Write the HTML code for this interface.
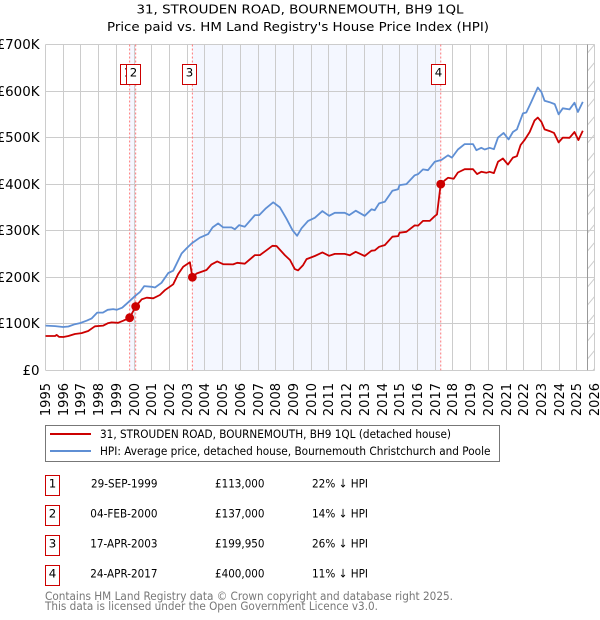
<!DOCTYPE html>
<html>
<head>
<meta charset="utf-8">
<title>31, Strouden Road price chart</title>
<style>
html,body{margin:0;padding:0;background:#fff;width:600px;height:620px;overflow:hidden}
svg{display:block}
text{font-family:"DejaVu Sans","Liberation Sans",sans-serif;fill:#000}
</style>
</head>
<body>
<svg id="chart" xmlns="http://www.w3.org/2000/svg" width="600" height="620" viewBox="0 0 600 620">
  <defs>
    <pattern id="hatch" patternUnits="userSpaceOnUse" width="10" height="18" x="585" y="44">
      <line x1="0" y1="12" x2="10" y2="0" stroke="#ccc" stroke-width="1"/>
      <line x1="0" y1="30" x2="10" y2="18" stroke="#ccc" stroke-width="1"/>
    </pattern>
  </defs>
  <text x="300" y="13.5" text-anchor="middle" font-size="12.2" textLength="327" lengthAdjust="spacingAndGlyphs">31, STROUDEN ROAD, BOURNEMOUTH, BH9 1QL</text>
  <text x="298" y="31" text-anchor="middle" font-size="12.2" textLength="382" lengthAdjust="spacingAndGlyphs">Price paid vs. HM Land Registry's House Price Index (HPI)</text>
  <g id="plot"></g>

  <g>
    <rect x="45.5" y="425.5" width="454" height="36" fill="#fff" stroke="#777" stroke-width="1"/>
    <line x1="50" y1="434" x2="91" y2="434" stroke="#cc0000" stroke-width="2"/>
    <text x="100" y="438" font-size="11.8" textLength="351" lengthAdjust="spacingAndGlyphs">31, STROUDEN ROAD, BOURNEMOUTH, BH9 1QL (detached house)</text>
    <line x1="50" y1="451" x2="91" y2="451" stroke="#5f8fd4" stroke-width="2"/>
    <text x="100" y="455" font-size="11.8" textLength="390.5" lengthAdjust="spacingAndGlyphs">HPI: Average price, detached house, Bournemouth Christchurch and Poole</text>
  </g>

  <g>
    <g>
      <rect x="45.5" y="475.5" width="14" height="20" fill="#fff" stroke="#cc0000" stroke-width="1"/>
      <text x="52.5" y="487.5" text-anchor="middle" font-size="11.8">1</text>
      <text x="91" y="487.5" font-size="11.8" textLength="66.5" lengthAdjust="spacingAndGlyphs">29-SEP-1999</text>
      <text x="215" y="487.5" font-size="11.8" textLength="49.5" lengthAdjust="spacingAndGlyphs">£113,000</text>
      <text x="312" y="487.5" font-size="11.8" textLength="56" lengthAdjust="spacingAndGlyphs">22% ↓ HPI</text>
    </g>
    <g>
      <rect x="45.5" y="505.5" width="14" height="20" fill="#fff" stroke="#cc0000" stroke-width="1"/>
      <text x="52.5" y="517.5" text-anchor="middle" font-size="11.8">2</text>
      <text x="90.3" y="517.5" font-size="11.8" textLength="67.2" lengthAdjust="spacingAndGlyphs">04-FEB-2000</text>
      <text x="215" y="517.5" font-size="11.8" textLength="49.5" lengthAdjust="spacingAndGlyphs">£137,000</text>
      <text x="312" y="517.5" font-size="11.8" textLength="56" lengthAdjust="spacingAndGlyphs">14% ↓ HPI</text>
    </g>
    <g>
      <rect x="45.5" y="535.5" width="14" height="20" fill="#fff" stroke="#cc0000" stroke-width="1"/>
      <text x="52.5" y="547.5" text-anchor="middle" font-size="11.8">3</text>
      <text x="90.3" y="547.5" font-size="11.8" textLength="67.2" lengthAdjust="spacingAndGlyphs">17-APR-2003</text>
      <text x="215" y="547.5" font-size="11.8" textLength="49.5" lengthAdjust="spacingAndGlyphs">£199,950</text>
      <text x="312" y="547.5" font-size="11.8" textLength="56" lengthAdjust="spacingAndGlyphs">26% ↓ HPI</text>
    </g>
    <g>
      <rect x="45.5" y="565.5" width="14" height="20" fill="#fff" stroke="#cc0000" stroke-width="1"/>
      <text x="52.5" y="577.5" text-anchor="middle" font-size="11.8">4</text>
      <text x="90.3" y="577.5" font-size="11.8" textLength="67.2" lengthAdjust="spacingAndGlyphs">24-APR-2017</text>
      <text x="215" y="577.5" font-size="11.8" textLength="49.5" lengthAdjust="spacingAndGlyphs">£400,000</text>
      <text x="312" y="577.5" font-size="11.8" textLength="56" lengthAdjust="spacingAndGlyphs">11% ↓ HPI</text>
    </g>
  </g>

  <text x="45" y="600" font-size="11.6" style="fill:#777" textLength="408" lengthAdjust="spacingAndGlyphs">Contains HM Land Registry data © Crown copyright and database right 2025.</text>
  <text x="45" y="610" font-size="11.6" style="fill:#777" textLength="333" lengthAdjust="spacingAndGlyphs">This data is licensed under the Open Government Licence v3.0.</text>
</svg>
<script>
const yearTicks = [1995,1996,1997,1998,1999,2000,2001,2002,2003,2004,2005,2006,2007,2008,2009,2010,2011,2012,2013,2014,2015,2016,2017,2018,2019,2020,2021,2022,2023,2024,2025,2026];
const valueTicks = [0,100000,200000,300000,400000,500000,600000,700000];
const valueTickLabels = ["£0","£100K","£200K","£300K","£400K","£500K","£600K","£700K"];
const hpiYears = [1995,1995.54,1995.99,1996.29,1996.66,1996.95,1997.32,1997.61,1997.92,1998.24,1998.51,1998.82,1999.02,1999.33,1999.67,2000.05,2000.33,2000.57,2000.99,2001.18,2001.55,2001.93,2002.21,2002.68,2002.96,2003.25,2003.71,2004.18,2004.43,2004.75,2005.03,2005.5,2005.69,2005.93,2006.25,2006.82,2007.06,2007.44,2007.85,2008.23,2008.6,2008.94,2009.2,2009.45,2009.82,2010.2,2010.63,2011.01,2011.33,2011.89,2012.14,2012.51,2013.02,2013.4,2013.58,2013.83,2014.15,2014.58,2014.9,2014.99,2015.37,2015.84,2016.03,2016.31,2016.59,2016.97,2017.35,2017.72,2017.94,2018.28,2018.66,2019.13,2019.32,2019.6,2019.79,2020.07,2020.31,2020.54,2020.86,2021.14,2021.38,2021.61,2021.95,2022.14,2022.42,2022.79,2022.99,2023.17,2023.46,2023.74,2023.96,2024.2,2024.58,2024.86,2025.05,2025.33];
const hpiValues = [96,95,93,94,99,101.5,106.5,111.5,124,124,130,131.5,130,134.5,146,159.5,168,181,179.5,178,188,209,214,251,262,272.7,285,292.7,307,315.6,307,307,303,312,308.5,333.5,333.5,348,361,350,326,301,289,305,321,327.7,342,332,338.5,338.5,333.5,343,332,346,344,358.6,362,385.7,389,398,400,419,421.5,431.6,430,448,452,462,457,474.5,486,486,473,478,474.5,478,475,500,510,496,512,517.5,552,554,576.7,607.6,598,579,576,572,550,563,560.6,575,555,576.7];
const priceYears = [1995,1995.54,1995.63,1995.76,1996.01,1996.29,1996.66,1997.04,1997.41,1997.79,1998.26,1998.54,1998.73,1999.1,1999.39,1999.75,2000.09,2000.43,2000.71,2001.08,2001.46,2001.74,2002.21,2002.49,2002.77,2003.15,2003.29,2003.53,2004.09,2004.37,2004.69,2005.03,2005.59,2005.82,2006.25,2006.82,2007.1,2007.48,2007.81,2008.04,2008.51,2008.8,2009.07,2009.26,2009.54,2009.74,2010.2,2010.63,2011.01,2011.33,2011.89,2012.17,2012.51,2013.02,2013.4,2013.58,2013.83,2014.15,2014.58,2014.9,2014.99,2015.37,2015.84,2016.03,2016.31,2016.69,2016.97,2017.1,2017.31,2017.55,2017.72,2018.04,2018.28,2018.66,2019.13,2019.36,2019.6,2019.88,2020.07,2020.31,2020.54,2020.82,2021.1,2021.38,2021.61,2021.82,2022.04,2022.33,2022.61,2022.79,2022.99,2023.17,2023.46,2023.7,2023.96,2024.2,2024.58,2024.86,2025.08,2025.33];
const priceValues = [73.6,73.6,76,72,71.5,73.6,78,80,84.5,94.5,96,101.5,103,102,106.5,113,137,152.5,156,154.6,161.7,172,184.7,207,222.5,232,199.95,208,215.4,227.6,234,228,227.6,231,229,247.6,247.6,258,267.6,267,247.6,237,217.5,214.7,226,239,245.5,253.4,246,250,250,247,254.7,245.5,257,257.7,265.4,269,287,288.4,295.6,297.6,311.4,311,321,321,331,335,400,408.6,413.6,411.4,425,432,432,421.5,426.5,424.3,426.5,423.6,448,455,442,457,460,484,494.5,512,537,543,534,517.5,514,510,489.6,500,499.5,512,494.5,514.5];
const saleYears = [1999.75,2000.09,2003.29,2017.31];
const salePrices = [113000,137000,199950,400000];
const saleLabels = ["1","2","3","4"];
const dataEndYear = 2025.58;

const NS = "http://www.w3.org/2000/svg";
const plot = document.getElementById("plot");
function xScale(year){ return 45.5 + (year - 1995) * (549.2 / 31); }
function yScale(value){ return 370.3 - value * (325.8 / 700000); }
function snap(p){ return Math.floor(p) + 0.5; }
function add(tag, attrs, parent){
  const el = document.createElementNS(NS, tag);
  for (const k in attrs) el.setAttribute(k, attrs[k]);
  (parent || plot).appendChild(el);
  return el;
}
function linePath(xs, ys, unit){
  return xs.map((x, i) => (i ? "L" : "M") + xScale(x).toFixed(1) + " " + yScale(ys[i] * unit).toFixed(1)).join(" ");
}

/* ownership shading between sale pairs */
for (let i = 0; i + 1 < saleYears.length; i += 2) {
  const band = add("rect", {x: xScale(saleYears[i]), y: yScale(700000), width: xScale(saleYears[i + 1]) - xScale(saleYears[i]), height: yScale(0) - yScale(700000), fill: "#f4f7ff"});
  
  
}

/* hatched forecast zone */
const hatchZone = add("rect", {x: xScale(dataEndYear), y: yScale(700000), width: xScale(2026) - xScale(dataEndYear), height: yScale(0) - yScale(700000), fill: "url(#hatch)"});



/* gridlines and tick labels */
yearTicks.forEach((yr) => {
  const x = snap(xScale(yr));
  const g = add("line", {x1: x, x2: x, y1: yScale(700000), y2: yScale(0), stroke: "#cccccc", "stroke-width": 1});
  
  
  const t = add("text", {transform: "translate(" + (x + 4.5) + ",383) rotate(-90)", "text-anchor": "end", "font-size": 13});
  
  
  t.textContent = yr;
});
valueTicks.forEach((v, i) => {
  const y = snap(yScale(v));
  const g = add("line", {x1: xScale(1995), x2: xScale(2026), y1: y, y2: y, stroke: "#cccccc", "stroke-width": 1});
  
  
  const t = add("text", {x: 39.5, y: y + 4.5, "text-anchor": "end", "font-size": 13.4});
  
  
  t.textContent = valueTickLabels[i];
});

/* end-of-data marker */
const endLine = add("line", {x1: snap(xScale(dataEndYear)), x2: snap(xScale(dataEndYear)), y1: yScale(700000), y2: yScale(0), stroke: "#999999", "stroke-width": 1});



/* sale date lines */
saleYears.forEach((yr) => {
  const d = add("line", {x1: xScale(yr), x2: xScale(yr), y1: yScale(700000), y2: yScale(0), stroke: "#f77", "stroke-width": 1, "stroke-dasharray": "2 2"});
  
  
});

/* series */
const hpiLine = add("path", {d: linePath(hpiYears, hpiValues, 1000), fill: "none", stroke: "#5f8fd4", "stroke-width": 1.8, "stroke-linejoin": "round"});


const priceLine = add("path", {d: linePath(priceYears, priceValues, 1000), fill: "none", stroke: "#cc0000", "stroke-width": 1.8, "stroke-linejoin": "round"});



/* sale markers and flags */
saleYears.forEach((yr, i) => {
  const m = add("circle", {cx: xScale(yr), cy: yScale(salePrices[i]), r: 4.4, fill: "#cc0000"});
  
  
  const cx = Math.round(xScale(yr)) - 3;
  const b = add("rect", {x: cx - 7 + 0.5, y: 64.5, width: 14, height: 20, fill: "#fff", stroke: "#cc0000", "stroke-width": 1});
  
  
  const t = add("text", {x: cx + 0.5, y: 76.5, "text-anchor": "middle", "font-size": 11.8});
  
  
  t.textContent = saleLabels[i];
});
</script>
</body>
</html>
